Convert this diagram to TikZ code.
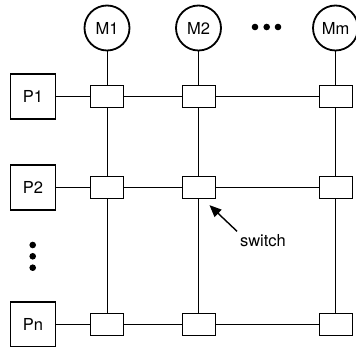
\documentclass[tikz,border=0pt]{standalone}
\usepackage{fontspec}
\setmainfont{TeX Gyre Heros}
\usetikzlibrary{arrows.meta}

\begin{document}
\begin{tikzpicture}[x=1pt,y=-1pt,
    every node/.style={font=\fontsize{16.5}{19}\selectfont},
    proc/.style={draw,line width=1.8pt,minimum size=45pt,inner sep=0pt},
    mem/.style={draw,circle,line width=1.8pt,minimum size=45pt,inner sep=0pt},
    sw/.style={draw,fill=white,line width=0.9pt,minimum width=33pt,minimum height=22pt,inner sep=0pt},
    wire/.style={line width=0.9pt},
    pointer/.style={line width=1.4pt,-{Triangle[length=12pt,width=10pt]}}]
    \useasboundingbox (0,0) rectangle (356,347);

    % Memory modules along the top
    \node[mem] (M1) at (107,28) {M1};
    \node[mem] (M2) at (198.5,28) {M2};
    \node[mem] (Mm) at (335.5,28) {Mm};

    % Processors on the left
    \node[proc] (P1) at (33,96.5) {P1};
    \node[proc] (P2) at (33,187.7) {P2};
    \node[proc] (Pn) at (33,324.7) {Pn};

    % Switches at every crossing
    \foreach \r/\y in {1/96.5,2/187.7,n/324.7}
        \foreach \c/\x in {1/107,2/198.5,m/335.5}
            \node[sw] (sw-\r-\c) at (\x,\y) {};

    % Columns and rows of the crossbar
    \foreach \c in {1,2,m}
        \draw[wire] (M\c) -- (sw-1-\c) -- (sw-2-\c) -- (sw-n-\c);
    \foreach \r in {1,2,n}
        \draw[wire] (P\r) -- (sw-\r-1) -- (sw-\r-2) -- (sw-\r-m);

    % Ellipsis dots
    \foreach \x in {255,266.7,278}
        \fill (\x,27) circle (3.3pt);
    \foreach \y in {245,256.3,267.7}
        \fill (32.7,\y) circle (3.3pt);

    % Label for one switch
    \node (lbl) at (263,241) {switch};
    \draw[pointer] ([xshift=0.5pt]lbl.north west) -- ([shift={(-6,6)}]sw-2-2.south east);
\end{tikzpicture}
\end{document}
